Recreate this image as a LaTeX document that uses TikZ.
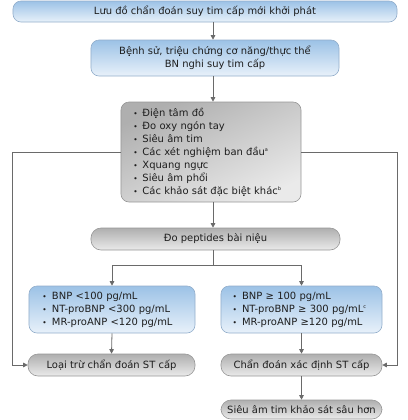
\documentclass[tikz,border=0pt]{standalone}
\usepackage{fontspec}
\setmainfont{DejaVu Sans}
\usetikzlibrary{arrows.meta}
\definecolor{bluetop}{HTML}{9CC2E6}
\definecolor{bluebot}{HTML}{E8F1FA}
\definecolor{blueedge}{HTML}{93AECB}
\definecolor{graytop}{HTML}{AFAFAF}
\definecolor{graybot}{HTML}{EAEAEA}
\definecolor{grayedge}{HTML}{979797}
\definecolor{lineclr}{HTML}{6A6A6A}
\definecolor{txt}{HTML}{1E1E1E}
\newcommand{\bul}{\makebox[9.5bp][l]{\hspace{0.5bp}\fontsize{7.5}{7.5}\selectfont •}}
\newcommand{\bulw}{\makebox[10bp][l]{\hspace{0.5bp}\fontsize{7.5}{7.5}\selectfont •}}
\begin{document}
\begin{tikzpicture}[x=1bp,y=-1bp,
  every node/.style={font=\fontsize{10}{13}\selectfont, text=txt, inner sep=0pt},
  bluebox/.style={draw=blueedge, line width=0.6bp, rounded corners=8bp, top color=bluetop, bottom color=bluebot},
  graybox/.style={draw=grayedge, line width=0.6bp, top color=graytop, bottom color=graybot},
  pill/.style={graybox, rounded corners=10bp},
  conn/.style={draw=lineclr, line width=0.8bp},
  arr/.style={conn, -{Triangle[length=4.5bp,width=4.5bp]}}]
\useasboundingbox (0,0) rectangle (408,420);

\coordinate (ax) at (213,0);
\coordinate (lx) at (12,0);
\coordinate (rx) at (397,0);
\coordinate (sp) at (213,265);

\node[bluebox, minimum width=384bp, minimum height=21bp] (t) at (205,11.5)
  {Lưu đồ chẩn đoán suy tim cấp mới khởi phát};
\node[bluebox, minimum width=248bp, minimum height=36bp, align=center] (h) at (215,58)
  {Bệnh sử, triệu chứng cơ năng/thực thể\\BN nghi suy tim cấp};
\node[graybox, rounded corners=8bp, shading angle=25, minimum width=180bp, minimum height=100bp,
  text width=156bp, align=left] (s) at (211,152)
  {\bul Điện tâm đồ\\
   \bul Đo oxy ngón tay\\
   \bul Siêu âm tim\\
   \bul Các xét nghiệm ban đầu\textsuperscript{\tiny a}\\
   \bul Xquang ngực\\
   \bul Siêu âm phổi\\
   \bul Các khảo sát đặc biệt khác\textsuperscript{\tiny b}};
\node[pill, minimum width=249bp, minimum height=22bp] (p) at (215.5,239)
  {Đo peptides bài niệu};
\node[bluebox, minimum width=166bp, minimum height=47bp, text width=140bp, align=left] (lo) at (112,309.5)
  {\bulw BNP <100 pg/mL\\
   \bulw NT-proBNP <300 pg/mL\\
   \bulw MR-proANP <120 pg/mL};
\node[bluebox, minimum width=161bp, minimum height=47bp, text width=139bp, align=left] (hi) at (301.5,309.5)
  {\bulw BNP ≥ 100 pg/mL\\
   \bulw NT-proBNP ≥ 300 pg/mL\textsuperscript{\tiny c}\\
   \bulw MR-proANP ≥120 pg/mL};
\node[pill, minimum width=167bp, minimum height=22bp] (ex) at (111.5,365)
  {Loại trừ chẩn đoán ST cấp};
\node[pill, minimum width=161bp, minimum height=22bp] (dx) at (301.5,365)
  {Chẩn đoán xác định ST cấp};
\node[pill, minimum width=161bp, minimum height=19bp] (ec) at (301.5,409.5)
  {Siêu âm tim khảo sát sâu hơn};

\draw[arr] (t.south -| ax) -- (h.north -| ax);
\draw[arr] (h.south -| ax) -- (s.north -| ax);
\draw[arr] (s.south -| ax) -- (p.north -| ax);
\draw[conn] (p.south -| ax) -- (sp);
\draw[arr] (sp) -| (lo.north);
\draw[arr] (sp) -| (hi.north);
\draw[arr] (lo.south) -- (ex.north);
\draw[arr] (hi.south) -- (dx.north);
\draw[arr] (dx.south) -- (ec.north);
\draw[arr] (s.west) -- (s.west -| lx) |- (ex.west);
\draw[arr] (s.east) -- (s.east -| rx) |- (dx.east);
\end{tikzpicture}
\end{document}
